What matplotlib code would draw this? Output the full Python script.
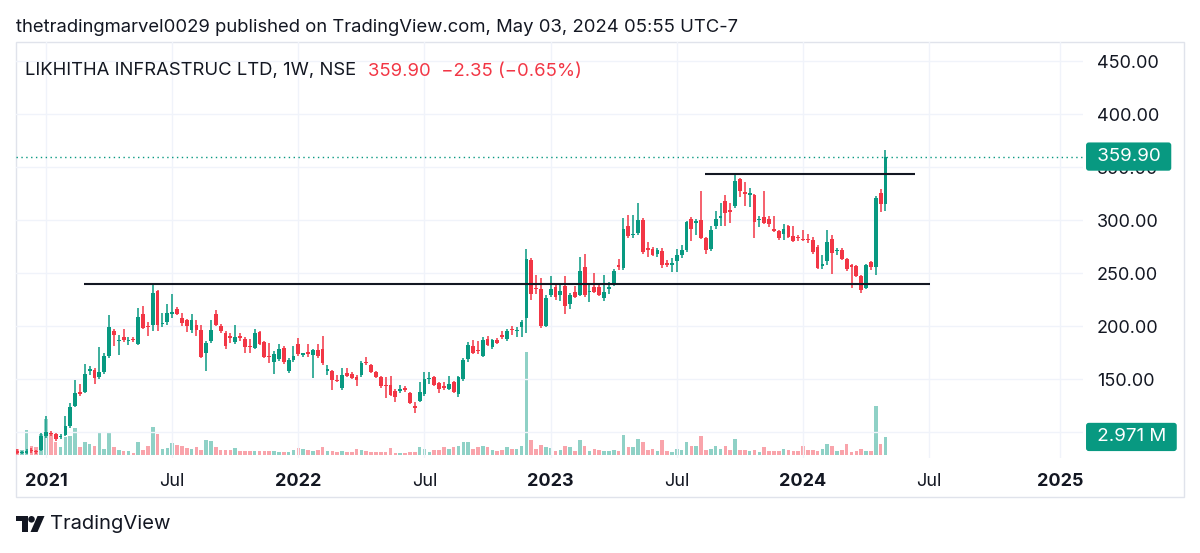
import matplotlib
matplotlib.use("Agg")
import matplotlib.pyplot as plt
import matplotlib.patches as mpatches
import matplotlib.transforms as mtrans
import numpy as np
import pandas as pd

plt.rcParams['font.family'] = ['Inter', 'DejaVu Sans']

W, H = 1200, 553

# weekly candles, first bar = week of 2020-11-23, last = week of 2024-04-29
first_week = "2020-11-23"

opens = [
    82, 80, 80, 83, 82, 83, 96, 99, 98, 95,
    97, 106, 125, 138, 138, 158, 159, 152, 157, 172,
    195, 186, 190, 186, 188, 183, 211, 200, 201, 233,
    202, 204, 211, 216, 208, 206, 196, 201, 196, 175,
    186, 211, 200, 193, 190, 185, 190, 188, 181, 179,
    194, 185, 172, 166, 169, 179, 158, 168, 183, 173,
    175, 173, 177, 178, 158, 158, 149, 142, 156, 155,
    152, 154, 166, 163, 157, 152, 144, 144, 139, 139,
    141, 137, 125, 129, 136, 150, 152, 146, 143, 141,
    147, 136, 150, 169, 181, 177, 172, 188, 180, 187,
    191, 188, 197, 195, 199, 208, 262, 236, 235, 200,
    229, 237, 229, 238, 221, 232, 229, 256, 232, 237,
    237, 226, 235, 240, 257, 255, 294, 286, 288, 300,
    273, 273, 268, 271, 259, 258, 261, 267, 272, 301,
    297, 300, 283, 273, 294, 302, 318, 309, 313, 339,
    326, 324, 324, 300, 303, 301, 292, 290, 287, 294,
    285, 284, 282, 282, 281, 275, 257, 261, 282, 271,
    272, 263, 258, 257, 247, 236, 260, 256, 326, 315,
]
highs = [
    84, 82, 84, 85, 83, 99, 115, 101, 99, 98,
    115, 127, 149, 145, 164, 162, 160, 180, 175, 210,
    197, 192, 197, 190, 190, 217, 219, 204, 240, 234,
    212, 221, 230, 218, 212, 207, 211, 206, 201, 186,
    206, 215, 202, 195, 193, 201, 193, 190, 188, 197,
    195, 186, 184, 176, 183, 181, 170, 181, 189, 175,
    183, 178, 183, 191, 163, 159, 154, 160, 160, 157,
    154, 167, 171, 164, 158, 153, 152, 153, 141, 144,
    143, 138, 128, 147, 157, 157, 153, 147, 147, 153,
    148, 153, 170, 185, 187, 186, 190, 191, 188, 189,
    195, 197, 200, 199, 206, 273, 264, 248, 245, 229,
    247, 239, 240, 247, 231, 238, 265, 268, 239, 250,
    239, 248, 242, 254, 263, 302, 305, 305, 316, 302,
    279, 275, 274, 274, 262, 264, 273, 276, 299, 303,
    301, 327, 284, 294, 309, 316, 324, 316, 343, 340,
    336, 330, 325, 304, 327, 304, 304, 291, 296, 295,
    294, 286, 291, 287, 284, 276, 267, 291, 286, 274,
    274, 264, 259, 258, 248, 259, 261, 323, 329, 366,
]
lows = [
    79, 79, 79, 80, 79, 82, 94, 96, 92, 93,
    96, 104, 124, 134, 137, 154, 145, 150, 155, 170,
    181, 173, 185, 182, 185, 182, 197, 191, 195, 195,
    199, 201, 208, 210, 200, 194, 193, 191, 170, 158,
    184, 200, 193, 178, 184, 183, 186, 175, 175, 178,
    182, 170, 165, 155, 167, 164, 156, 166, 172, 171,
    171, 151, 170, 163, 154, 140, 147, 140, 152, 150,
    143, 152, 163, 156, 151, 142, 132, 134, 128, 137,
    138, 126, 118, 128, 134, 145, 143, 137, 140, 140,
    137, 133, 148, 166, 174, 174, 171, 181, 178, 183,
    188, 186, 192, 190, 190, 193, 225, 230, 198, 199,
    227, 225, 224, 211, 216, 226, 228, 227, 223, 231,
    228, 224, 230, 238, 253, 253, 283, 283, 286, 268,
    265, 266, 265, 255, 256, 251, 251, 264, 270, 280,
    286, 282, 268, 271, 292, 294, 294, 297, 311, 322,
    313, 312, 283, 293, 296, 293, 289, 281, 281, 283,
    279, 280, 280, 278, 268, 254, 254, 258, 249, 267,
    262, 252, 236, 246, 231, 235, 253, 248, 308, 309,
]
closes = [
    80, 81, 82, 82, 81, 96, 100, 98, 93, 96,
    106, 124, 137, 136, 155, 159, 151, 157, 172, 199,
    192, 187, 187, 187, 187, 209, 198, 199, 231, 201,
    203, 212, 213, 211, 203, 200, 206, 196, 171, 184,
    196, 201, 195, 181, 189, 190, 189, 180, 180, 193,
    183, 171, 171, 174, 178, 166, 168, 172, 174, 174,
    174, 177, 172, 165, 159, 149, 148, 154, 153, 151,
    149, 165, 165, 157, 152, 143, 143, 135, 133, 140,
    140, 127, 123, 138, 150, 151, 144, 141, 142, 145,
    138, 152, 168, 182, 175, 176, 187, 182, 187, 184,
    190, 195, 196, 196, 204, 263, 230, 235, 200, 226,
    235, 227, 233, 219, 229, 227, 252, 229, 233, 232,
    229, 232, 237, 252, 256, 292, 285, 287, 300, 270,
    272, 267, 272, 258, 258, 259, 267, 272, 298, 292,
    299, 283, 272, 291, 301, 304, 307, 308, 337, 327,
    325, 325, 298, 301, 297, 296, 290, 283, 292, 284,
    280, 283, 281, 281, 270, 255, 258, 279, 269, 272,
    263, 254, 256, 247, 234, 258, 256, 321, 315, 359.9,
]
# volume in millions
volumes = [
    1.0, 0.8, 4.1, 1.4, 1.3, 3.5, 5.9, 3.6, 2.1, 1.3,
    2.9, 3.2, 4.4, 1.3, 2.1, 1.8, 1.5, 3.6, 1.0, 3.6,
    1.3, 0.9, 0.7, 0.7, 0.4, 2.2, 0.8, 1.5, 4.6, 3.4,
    1.0, 1.1, 2.0, 1.6, 1.5, 1.2, 1.0, 1.3, 0.8, 2.5,
    2.3, 1.3, 0.8, 0.8, 0.8, 1.15, 0.7, 0.7, 0.6, 0.7,
    0.6, 0.7, 0.6, 0.6, 0.5, 0.45, 0.55, 0.8, 1.15, 1.0,
    0.9, 0.6, 0.8, 1.3, 0.7, 0.6, 0.5, 0.6, 0.45, 0.55,
    1.0, 0.9, 0.6, 0.5, 0.45, 0.45, 0.55, 1.15, 0.4, 0.4,
    0.35, 0.45, 0.55, 1.3, 1.0, 0.55, 0.8, 0.9, 1.3, 1.0,
    1.3, 1.5, 2.1, 2.1, 1.0, 1.3, 1.5, 1.3, 0.9, 0.7,
    0.8, 1.3, 1.0, 1.0, 1.4, 16.9, 2.5, 1.0, 1.6, 1.3,
    1.1, 0.6, 0.8, 1.5, 1.3, 0.6, 2.5, 1.5, 0.7, 1.0,
    0.8, 0.7, 0.6, 0.8, 0.7, 3.3, 1.3, 1.3, 2.6, 2.1,
    0.8, 1.0, 0.7, 2.4, 0.7, 0.45, 1.0, 0.8, 2.1, 1.4,
    1.5, 3.2, 0.8, 1.0, 1.5, 1.0, 1.5, 0.8, 2.7, 0.8,
    0.8, 0.7, 0.8, 0.45, 1.3, 0.7, 0.7, 0.6, 1.0, 0.8,
    0.7, 0.7, 1.4, 0.8, 0.8, 0.7, 1.0, 1.8, 1.4, 0.7,
    0.8, 1.8, 0.45, 0.7, 1.0, 0.7, 0.6, 8.1, 1.8, 2.971,
]

support = 240
resistance = 343
last_price = 359.90
last_volume = "2.971 M"
price_ticks = [100, 150, 200, 250, 300, 350, 400, 450]

UP = "#089981"
DOWN = "#f23645"
TEXT = "#131722"
GRID = "#f0f3fa"

fig = plt.figure(figsize=(W / 100, H / 100), dpi=100)
fig.patch.set_facecolor("white")

# plot area in pixels: x 16..1083, y 42..458
ax = fig.add_axes([16 / W, 1 - 458 / H, (1083 - 16) / W, (458 - 42) / H])
ax2 = ax.twinx()
ax.set_zorder(2)
ax2.set_zorder(1)
ax.patch.set_visible(False)

n = len(closes)
idx = np.arange(n)
up = [c >= o for o, c in zip(opens, closes)]
colors = [UP if u else DOWN for u in up]

# volume
ax2.bar(idx, volumes, width=0.74, color=colors, alpha=0.45, lw=0)
ax2.set_ylim(-0.5, 68.1)
ax2.set_yticks([])
for s in ax2.spines.values():
    s.set_visible(False)

# candles
ax.vlines(idx, lows, highs, colors=colors, lw=1.1, zorder=3)
bottoms = [min(o, c) for o, c in zip(opens, closes)]
heights = [max(abs(c - o), 1.2) for o, c in zip(opens, closes)]
ax.bar(idx, heights, bottom=bottoms, width=0.78, color=colors, lw=0, zorder=4)

# drawn levels
ax.hlines(support, 13.8, 188.2, color=TEXT, lw=1.5, zorder=5)
ax.hlines(resistance, 141.8, 185.1, color=TEXT, lw=1.5, zorder=5)
ax.axhline(last_price, color=UP, lw=1.0, ls=(0, (1, 2.5)), zorder=5)

ax.set_xlim(-0.18, 219.7)
ax.set_ylim(75.5, 468)

# time axis ticks
dates = pd.date_range(first_week, periods=230, freq="W-MON")
tick_pos, tick_lab = [], []
for i in range(1, len(dates)):
    if dates[i].month != dates[i - 1].month and dates[i].month in (1, 7):
        if i > 219:
            break
        tick_pos.append(i)
        tick_lab.append(str(dates[i].year) if dates[i].month == 1 else "Jul")
ax.set_xticks(tick_pos)
ax.set_xticklabels(tick_lab)
for t in ax.get_xticklabels():
    t.set_fontweight("bold" if t.get_text() != "Jul" else "normal")
ax.tick_params(axis="x", length=0, pad=11, labelsize=13, labelcolor=TEXT)

ax.yaxis.tick_right()
ax.set_yticks(price_ticks)
ax.set_yticklabels([f"{v:.2f}" for v in price_ticks])
ax.tick_params(axis="y", length=0, pad=10, labelsize=13, labelcolor=TEXT)

ax.grid(True, color=GRID, lw=1)
ax.set_axisbelow(True)
for s in ax.spines.values():
    s.set_visible(False)

# price and volume labels on the scale (both on ax so they sit above tick labels)
ytr = mtrans.blended_transform_factory(ax.transAxes, ax.transData)
ax.text(1.0081, last_price, f" {last_price:.2f} ", transform=ytr, ha="left", va="center",
        fontsize=13.5, color="white", zorder=10, clip_on=False,
        bbox=dict(boxstyle="round,pad=0.3,rounding_size=0.15", fc=UP, ec="none"))
ytr2 = mtrans.blended_transform_factory(ax.transAxes, ax2.transData)
ax.text(1.0081, 2.971, f" {last_volume} ", transform=ytr2, ha="left", va="center",
        fontsize=13.5, color="white", zorder=10, clip_on=False,
        bbox=dict(boxstyle="round,pad=0.3,rounding_size=0.15", fc=UP, ec="none"))

# outer frame
fig.add_artist(mpatches.Rectangle((16 / W, 1 - 497 / H), (1184 - 16) / W, (497 - 42) / H,
                                  transform=fig.transFigure, fill=False, ec="#e0e3eb", lw=1))

fig.text(16 / W, 1 - 27 / H,
         "thetradingmarvel0029 published on TradingView.com, May 03, 2024 05:55 UTC-7",
         ha="left", va="center", fontsize=13.3, color=TEXT)
fig.text(25 / W, 1 - 71 / H, "LIKHITHA INFRASTRUC LTD, 1W, NSE",
         ha="left", va="center", fontsize=13.3, color=TEXT)
fig.text(368 / W, 1 - 71 / H, "359.90  \u22122.35 (\u22120.65%)",
         ha="left", va="center", fontsize=13.3, color=DOWN)

# TradingView logo
def px(x, y):
    return (x / W, 1 - y / H)

logo = [
    mpatches.Polygon([px(16, 516), px(28, 516), px(28, 532), px(22, 532), px(22, 521), px(16, 521)],
                     closed=True, fc=TEXT, ec="none", transform=fig.transFigure),
    mpatches.Ellipse(px(31.5, 519.3), 6.6 / W, 6.6 / H, fc=TEXT, ec="none", transform=fig.transFigure),
    mpatches.Polygon([px(37.5, 516), px(44.5, 516), px(37.5, 532), px(30.5, 532)],
                     closed=True, fc=TEXT, ec="none", transform=fig.transFigure),
]
for p in logo:
    fig.add_artist(p)
fig.text(50 / W, 1 - 524 / H, "TradingView", ha="left", va="center", fontsize=14.5, color=TEXT)

fig.savefig("out.png", dpi=100)
